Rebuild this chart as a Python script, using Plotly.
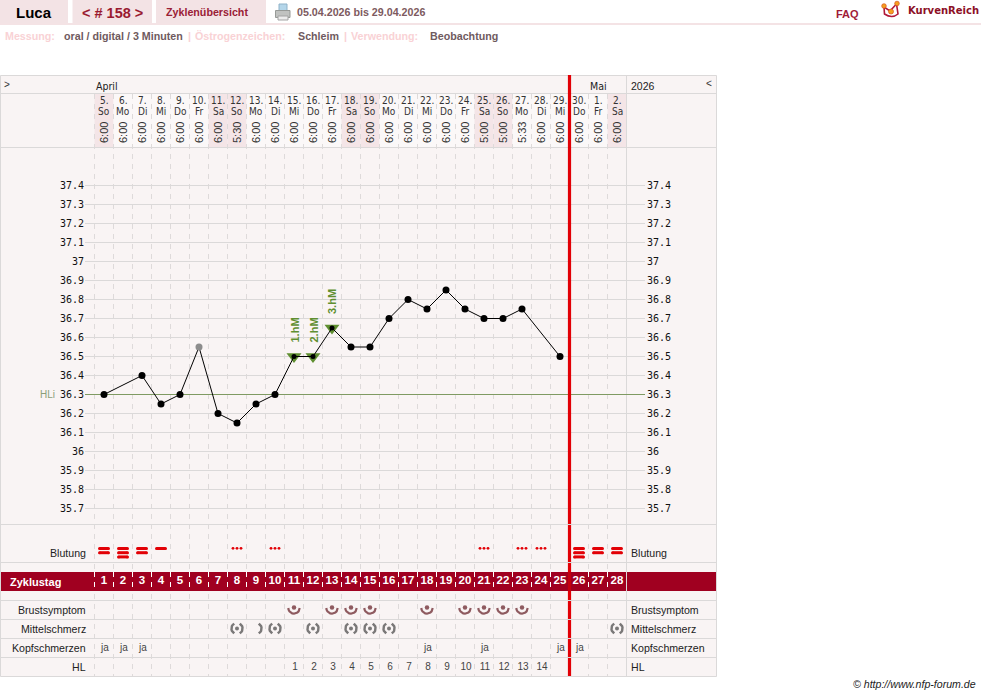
import math
import plotly.graph_objects as go

# Cycle data -----------------------------------------------------------------
cycle_days = list(range(1, 29))
dates = [5, 6, 7, 8, 9, 10, 11, 12, 13, 14, 15, 16, 17, 18, 19, 20, 21, 22, 23, 24,
         25, 26, 27, 28, 29, 30, 1, 2]
weekdays = ["So", "Mo", "Di", "Mi", "Do", "Fr", "Sa", "So", "Mo", "Di", "Mi", "Do", "Fr", "Sa",
            "So", "Mo", "Di", "Mi", "Do", "Fr", "Sa", "So", "Mo", "Di", "Mi", "Do", "Fr", "Sa"]
times = ["6:00", "6:00", "6:00", "6:00", "6:00", "6:00", "6:00", "5:30", "6:00", "6:00",
         "6:00", "6:00", "6:00", "6:00", "6:00", "6:00", "6:00", "6:00", "6:00", "6:00",
         "5:00", "5:00", "5:33", "6:00", "6:00", "6:00", "6:00", "6:00"]
temperature = [36.3, None, 36.4, 36.25, 36.3, 36.55, 36.2, 36.15, 36.25, 36.3,
               36.5, 36.5, 36.65, 36.55, 36.55, 36.7, 36.8, 36.75, 36.85, 36.75,
               36.7, 36.7, 36.75, None, 36.5]
excluded_days = [6]
peak_days = [11, 12, 13]
peak_labels = ["1.hM", "2.hM", "3.hM"]
temp_ticks = [37.4, 37.3, 37.2, 37.1, 37, 36.9, 36.8, 36.7, 36.6, 36.5, 36.4, 36.3, 36.2, 36.1,
              36, 35.9, 35.8, 35.7]
cover_line = 36.3
# Bleeding: number of bars per day, -1 stands for spotting
bleeding = [2, 3, 2, 1, 0, 0, 0, -1, 0, -1, 0, 0, 0, 0, 0, 0, 0, 0, 0, 0, -1, 0, -1, -1, 0, 3, 2, 2]
breast_days = [11, 13, 14, 15, 18, 20, 21, 22, 23]
pain_both_days = [8, 10, 12, 14, 15, 16, 28]
pain_right_days = [9]
headache_days = [1, 2, 3, 18, 21, 25, 26]
hl_days = list(range(11, 25))
hl_counts = list(range(1, 15))
current_boundary = 25.5

# Palette and page geometry --------------------------------------------------
PANEL = "#f9f4f4"
WEEKEND = "#f4e5e7"
WEEKDAY = "#fbf8f8"
RULE = "#dbd9d9"
DASH = "#dedada"
BAND = "#a00020"
RED = "#e20006"
PINK = "#f3e3e5"
SANS = "Liberation Sans"
NARROW = "DejaVu Sans Condensed, Liberation Sans"
MONO = "DejaVu Sans Mono"
SOFT = "#6f5a5e"
FAINT = "#f9d2d5"

WIDTH, HEIGHT = 981, 696
COL = 19.0
FIRST_X = 104.0
ROW_T = 190.0
TOP_T_Y = 185.5
TOP_T = 37.4
row_lines = [75.5, 93.5, 147.5, 524.5, 562.5, 600.5, 619.5, 638.5, 657.5, 676.5]
PANEL_L, PANEL_R = 0.5, 716.5
GRID_L, GRID_R = 94.5, 626.5
BAND_TOP, BAND_BOTTOM = 572, 591
Y_BLEED, Y_BREAST, Y_PAIN, Y_HEAD, Y_HL, Y_CYCLE = 553, 610, 629, 648, 667, 581.5


def px_per_day(px):
    return px / COL


shapes, notes = [], []


def rect(x0, y0, x1, y1, fill, line=None):
    shapes.append(dict(type="rect", xref="x2", yref="y2", x0=x0, y0=y0, x1=x1, y1=y1,
                       fillcolor=fill, line=dict(width=0 if line is None else 1, color=line or fill),
                       layer="below"))


def hline(x0, x1, y, color=RULE, width=1):
    shapes.append(dict(type="line", xref="x2", yref="y2", x0=x0, x1=x1, y0=y, y1=y,
                       line=dict(color=color, width=width), layer="below"))


def vline(x, y0, y1, color=RULE, width=1, dash=None):
    shapes.append(dict(type="line", xref="x2", yref="y2", x0=x, x1=x, y0=y0, y1=y1,
                       line=dict(color=color, width=width, dash=dash), layer="below"))


def label(x, y, text, size=11, color="#222222", bold=False, anchor="left", font=SANS,
          angle=0, xref="x2", yref="y2", italic=False):
    shown = f"<b>{text}</b>" if bold else text
    shown = f"<i>{shown}</i>" if italic else shown
    notes.append(dict(x=x, y=y, xref=xref, yref=yref, text=shown, showarrow=False,
                      xanchor=anchor, yanchor="middle", textangle=angle, borderpad=0, borderwidth=0,
                      font=dict(family=font, size=size, color=color)))


# Page header ----------------------------------------------------------------
rect(0, 0, 68, 23, PINK)
rect(72.5, 0, 152, 23, PINK)
rect(156, 0, 266, 23, PINK)
rect(0, 23, WIDTH, 25, "#f4e3e5")
label(16, 12.5, "Luca", 15, "#000000", True)
label(82, 12.5, "&lt; # 158 &gt;", 14.5, "#9a1a30", True)
label(166, 12, "Zyklenübersicht", 10.7, "#9a2036", True)
label(297, 12, "05.04.2026 bis 29.04.2026", 10.7, "#7d5a60", True)
label(836, 14, "FAQ", 11, "#a01c38", True)
label(908, 10, "KurvenReich", 10, "#8c1026", True, font="DejaVu Sans")

label(5, 36, "Messung:", 10.7, FAINT, True)
label(64, 36, "oral / digital / 3 Minuten", 10.7, SOFT, True)
label(188, 36, "|", 10.7, FAINT, True)
label(195, 36, "Östrogenzeichen:", 10.7, FAINT, True)
label(298, 36, "Schleim", 10.7, SOFT, True)
label(344, 36, "|", 10.7, FAINT, True)
label(351, 36, "Verwendung:", 10.7, FAINT, True)
label(430, 36, "Beobachtung", 10.7, SOFT, True)

# Printer icon
rect(279, 4, 287, 11, "#b4d6ea", "#8fb2c8")
rect(275.5, 10.5, 290, 17.5, "#c0c2c0", "#979a97")
rect(278, 16, 288, 20, "#ececec", "#a4a4a4")

# Curve logo
shapes.append(dict(type="path", xref="x2", yref="y2",
                   path="M 884 7 L 884.5 14 Q 892 19 898 14 L 896.5 4 L 890 11 Z",
                   fillcolor="rgba(0,0,0,0)", line=dict(color="#b0193a", width=1.6), layer="below"))
for cx, cy, r in [(884, 6, 2.3), (891, 11.5, 2.5), (897, 3.5, 2.3)]:
    shapes.append(dict(type="circle", xref="x2", yref="y2", x0=cx - r, x1=cx + r, y0=cy - r, y1=cy + r,
                       fillcolor="#f5a020", line=dict(color="#d8541a", width=0.7), layer="below"))

# Chart panel and date cells -------------------------------------------------
rect(PANEL_L, 75.5, PANEL_R, 676.5, PANEL)
for i, day in enumerate(cycle_days):
    left = GRID_L + COL * i
    rect(left, 94, left + COL, 147, WEEKEND if weekdays[i] in ("Sa", "So") else WEEKDAY)

# Vertical dashed day separators
for k in range(len(cycle_days)):
    vline(GRID_L + COL * k, 94, 676, DASH, 1, "5px,5px")

# Zyklustag band
rect(PANEL_L - 0.5, BAND_TOP, PANEL_R + 0.5, BAND_BOTTOM, BAND)
for k in range(len(cycle_days)):
    vline(GRID_L + COL * k, BAND_TOP, BAND_BOTTOM, "#ffffff", 1, "5px,5px")

# Panel frame and row rules
for y in row_lines:
    hline(PANEL_L, PANEL_R, y)
vline(PANEL_L, 75.5, 676.5)
vline(PANEL_R, 75.5, 676.5)
vline(GRID_R, 75.5, 676.5)

# Header row and axis text ---------------------------------------------------
label(4, 84, "&gt;", 10, "#333333")
label(96, 85.5, "April", 10.5, "#222222", font=NARROW)
label(590, 85.5, "Mai", 10.5, "#222222", font=NARROW)
label(631, 85.5, "2026", 10.5, "#222222")
label(706, 83.5, "&lt;", 10, "#333333")

for day, d, w, t in zip(cycle_days, dates, weekdays, times):
    label(day, 100.5, f"{d}.", 10, "#333333", anchor="center", font=NARROW, xref="x")
    label(day, 111, w, 10, "#333333", anchor="center", font=NARROW, xref="x")
    label(day, 133, t, 11, "#333333", anchor="center", angle=-90, xref="x")

for t in temp_ticks:
    text = f"{t:g}"
    label(83.5, t, text, 10, "#111111", anchor="right", font=MONO, yref="y")
    label(647, t, text, 10, "#111111", anchor="left", font=MONO, yref="y")
label(40, cover_line, "HLi", 10, "#8a9f78", yref="y")

for y, text in [(Y_BLEED, "Blutung"), (Y_BREAST, "Brustsymptom"), (Y_PAIN, "Mittelschmerz"),
                (Y_HEAD, "Kopfschmerzen"), (Y_HL, "HL")]:
    label(85.5, y, text, 10.6, "#222222", anchor="right")
    label(631, y, text, 10.6, "#222222")

label(10, Y_CYCLE, "Zyklustag", 11, "#ffffff", True)

fig = go.Figure()

# Temperature rules run past the day grid on both sides
rule_start = 1 + (85 - FIRST_X) / COL
rule_end = 1 + (645 - FIRST_X) / COL
rule_x, rule_y = [], []
for t in temp_ticks:
    if t != cover_line:
        rule_x += [rule_start, rule_end, None]
        rule_y += [t, t, None]
fig.add_trace(go.Scatter(x=rule_x, y=rule_y, mode="lines", line=dict(color=RULE, width=1), hoverinfo="skip"))
fig.add_trace(go.Scatter(x=[rule_start, rule_end], y=[cover_line, cover_line], mode="lines",
                         line=dict(color="#7f9a62", width=1), hoverinfo="skip"))

# Today's marker runs between the row rules, muted across the band
today_stops = [75, 524, 525, 562, 563, BAND_TOP, BAND_BOTTOM, 600, 601, 619, 620, 638, 639, 657, 658, 676]
today_x, today_y = [], []
for y0, y1 in zip(today_stops[::2], today_stops[1::2]):
    today_x += [current_boundary, current_boundary, None]
    today_y += [y0, y1, None]
fig.add_trace(go.Scatter(x=today_x, y=today_y, yaxis="y2", mode="lines",
                         line=dict(color=RED, width=3.2), hoverinfo="skip"))
fig.add_trace(go.Scatter(x=[current_boundary, current_boundary], y=[BAND_TOP, BAND_BOTTOM], yaxis="y2",
                         mode="lines", line=dict(color="#c40010", width=3.2), hoverinfo="skip"))

# Temperature curve ----------------------------------------------------------
peak_temps = [temperature[d - 1] for d in peak_days]
fig.add_trace(go.Scatter(x=peak_days, y=peak_temps, mode="markers",
                         marker=dict(symbol="triangle-down", color="#5f8f30", size=13, line=dict(width=0)),
                         hoverinfo="skip"))
fig.add_trace(go.Scatter(x=cycle_days[:len(temperature)], y=temperature, mode="lines",
                         connectgaps=True, line=dict(color="#000000", width=1), hoverinfo="skip"))
plain = [(d, v) for d, v in zip(cycle_days, temperature)
         if v is not None and d not in excluded_days and d not in peak_days]
fig.add_trace(go.Scatter(x=[p[0] for p in plain], y=[p[1] for p in plain], mode="markers",
                         marker=dict(color="#000000", size=7), hoverinfo="skip"))
fig.add_trace(go.Scatter(x=excluded_days, y=[temperature[d - 1] for d in excluded_days], mode="markers",
                         marker=dict(color="#8c8c8c", size=7), hoverinfo="skip"))
fig.add_trace(go.Scatter(x=peak_days, y=peak_temps, mode="markers",
                         marker=dict(color="#000000", size=5), hoverinfo="skip"))
for d, t, text in zip(peak_days, peak_temps, peak_labels):
    label(d, t + 26 / ROW_T, text, 11, "#5f8f30", True, anchor="center", angle=-90, xref="x", yref="y")


# Observation rows -----------------------------------------------------------
def arc_points(day, cy, r, a0, a1, steps=10):
    xs, ys = [], []
    for s in range(steps + 1):
        a = math.radians(a0 + (a1 - a0) * s / steps)
        xs.append(day + px_per_day(r * math.cos(a)))
        ys.append(cy + r * math.sin(a))
    return xs + [None], ys + [None]


def add_lines(xs, ys, color, width):
    fig.add_trace(go.Scatter(x=xs, y=ys, yaxis="y2", mode="lines", hoverinfo="skip",
                             line=dict(color=color, width=width)))


def add_dots(xs, ys, color, size):
    fig.add_trace(go.Scatter(x=xs, y=ys, yaxis="y2", mode="markers", hoverinfo="skip",
                             marker=dict(color=color, size=size, line=dict(width=0))))


# Bleeding bars and spotting dots
bar_x, bar_y, cap_x, cap_y, spot_x, spot_y = [], [], [], [], [], []
half_bar = px_per_day(4.5)
for day, level in zip(cycle_days, bleeding):
    if level < 0:
        spot_x += [day - px_per_day(4), day, day + px_per_day(4)]
        spot_y += [548.3] * 3
    for n in range(level):
        y = 548.5 + 4.2 * n
        bar_x += [day - half_bar, day + half_bar, None]
        bar_y += [y, y, None]
        cap_x += [day - half_bar, day + half_bar]
        cap_y += [y, y]
add_lines(bar_x, bar_y, RED, 3)
add_dots(cap_x, cap_y, RED, 3)
add_dots(spot_x, spot_y, RED, 2.8)

# Breast symptom: dot over a lower arc
bx, by = [], []
for d in breast_days:
    xs, ys = arc_points(d, Y_BREAST - 2, 5.7, 0, 180)
    bx += xs
    by += ys
add_lines(bx, by, "#8e5a5f", 2.2)
add_dots(breast_days, [Y_BREAST - 2.5] * len(breast_days), "#8e5a5f", 4.5)

# Middle pain: dot between two brackets, or only the right bracket
px_, py_ = [], []
for d in pain_both_days + pain_right_days:
    xs, ys = arc_points(d, Y_PAIN - 0.5, 5.6, -60, 60)
    px_ += xs
    py_ += ys
for d in pain_both_days:
    xs, ys = arc_points(d, Y_PAIN - 0.5, 5.6, 120, 240)
    px_ += xs
    py_ += ys
add_lines(px_, py_, "#7a7878", 2.4)
add_dots(pain_both_days, [Y_PAIN - 0.5] * len(pain_both_days), "#7a7878", 4)

# Text rows
fig.add_trace(go.Scatter(x=cycle_days, y=[Y_CYCLE] * len(cycle_days), yaxis="y2", mode="text",
                         text=[str(d) for d in cycle_days], hoverinfo="skip",
                         textfont=dict(family=SANS, size=11.5, color="#ffffff", weight="bold")))
fig.add_trace(go.Scatter(x=[d + 0.05 for d in headache_days], y=[Y_HEAD] * len(headache_days), yaxis="y2",
                         mode="text", text=["ja"] * len(headache_days), hoverinfo="skip",
                         textfont=dict(family=SANS, size=10, color="#444444")))
fig.add_trace(go.Scatter(x=[d + 0.05 for d in hl_days], y=[Y_HL] * len(hl_days), yaxis="y2", mode="text",
                         text=[str(n) for n in hl_counts], hoverinfo="skip",
                         textfont=dict(family=SANS, size=10, color="#444444")))

label(976, 684, "© http://www.nfp-forum.de", 10.6, "#222222", anchor="right", italic=True)

hidden = dict(visible=False, showgrid=False, zeroline=False, fixedrange=True)
fig.update_layout(
    width=WIDTH, height=HEIGHT, autosize=False, showlegend=False,
    margin=dict(l=0, r=0, t=0, b=0, pad=0),
    paper_bgcolor="#ffffff", plot_bgcolor="rgba(0,0,0,0)",
    xaxis=dict(domain=[0, 1], range=[1 - FIRST_X / COL, 1 + (WIDTH - FIRST_X) / COL], **hidden),
    yaxis=dict(domain=[0, 1], range=[TOP_T - (HEIGHT - TOP_T_Y) / ROW_T, TOP_T + TOP_T_Y / ROW_T], **hidden),
    xaxis2=dict(overlaying="x", range=[0, WIDTH], **hidden),
    yaxis2=dict(overlaying="y", range=[HEIGHT, 0], **hidden),
    shapes=shapes, annotations=notes,
)
fig.write_html("out.html", config=dict(displayModeBar=False))
